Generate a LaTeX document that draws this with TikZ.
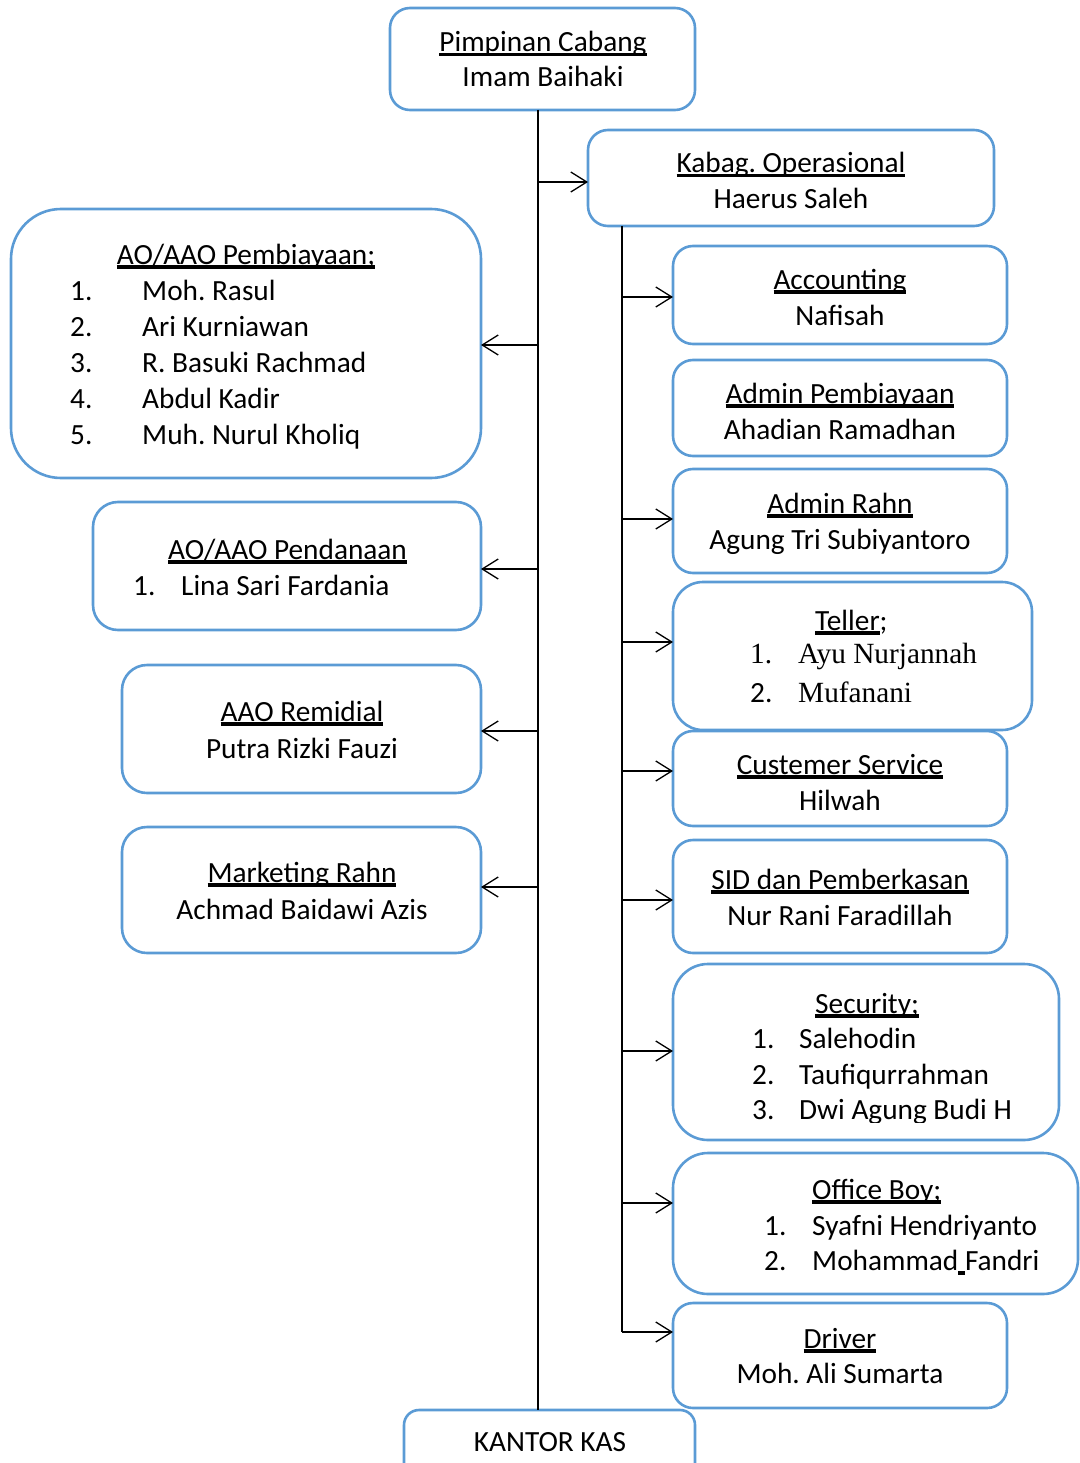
\documentclass[tikz,border=0pt]{standalone}
\usepackage{fontspec}
\setmainfont{Carlito}
\newfontfamily\tnr{Liberation Serif}
\frenchspacing
\newsavebox{\ulxbox}
\newcommand{\ulx}[1]{\sbox{\ulxbox}{#1}\rlap{\rule[-4.5pt]{\wd\ulxbox}{3.4pt}}\usebox{\ulxbox}}
\usetikzlibrary{arrows.meta}
\definecolor{bxc}{HTML}{5B9BD5}
\tikzset{
  bx/.style={draw=bxc, line width=2.6pt, rounded corners=#1, anchor=north west, inner sep=0pt, outer sep=0pt},
  bx/.default=20pt,
  tx/.style={font=\fontsize{29.3}{36}\selectfont\frenchspacing, inner sep=0pt, anchor=base},
  txl/.style={tx, anchor=base west},
  arr/.style={line width=1.3pt, -{Straight Barb[length=16pt,width=20pt,line width=1.3pt]}},
  ln/.style={line width=1.3pt},
}
\begin{document}
\begin{tikzpicture}[x=1pt,y=-1pt]
\useasboundingbox (0,0) rectangle (1079,1463);
% boxes
\node[bx, minimum width=305pt, minimum height=102pt] (pim) at (390,8) {};
\node[bx, minimum width=406pt, minimum height=96pt] (kab) at (588,130) {};
\node[bx=50pt, minimum width=470pt, minimum height=269pt] (pemb) at (11,209) {};
\node[bx=25pt, minimum width=388pt, minimum height=128pt] (pend) at (93,502) {};
\node[bx=25pt, minimum width=359pt, minimum height=128pt] (remi) at (122,665) {};
\node[bx=25pt, minimum width=359pt, minimum height=126pt] (mkt) at (122,827) {};
\node[bx, minimum width=334pt, minimum height=98pt] (acc) at (673,246) {};
\node[bx, minimum width=334pt, minimum height=96pt] (admp) at (673,360) {};
\node[bx, minimum width=334pt, minimum height=104pt] (admr) at (673,469) {};
\node[bx=30pt, minimum width=359pt, minimum height=148pt] (tel) at (673,582) {};
\node[bx, minimum width=334pt, minimum height=95pt] (cs) at (673,731) {};
\node[bx, minimum width=334pt, minimum height=113pt] (sid) at (673,840) {};
\node[bx=35pt, minimum width=386pt, minimum height=176pt] (sec) at (673,964) {};
\node[bx=35pt, minimum width=405pt, minimum height=141pt] (ob) at (673,1153) {};
\node[bx, minimum width=334pt, minimum height=105pt] (drv) at (673,1303) {};
\node[bx=15pt, minimum width=291pt, minimum height=90pt] (kas) at (404,1410) {};
% texts
\node[tx] (t1) at (543,52) {\ulx{Pimpinan Cabang}};
\node[tx] (t2) at (543,87) {Imam Baihaki};
\node[tx] (t3) at (791,173) {\ulx{Kabag. Operasional}};
\node[tx] (t4) at (791,209) {Haerus Saleh};
\node[tx] (t5) at (246,264) {\ulx{AO/AAO Pembiayaan;}};
\node[txl] (t6a) at (70,300) {1.};
\node[txl] (t6b) at (142,300) {Moh. Rasul};
\node[txl] (t7a) at (70,336) {2.};
\node[txl] (t7b) at (142,336) {Ari Kurniawan};
\node[txl] (t8a) at (70,372) {3.};
\node[txl] (t8b) at (142,372) {R. Basuki Rachmad};
\node[txl] (t9a) at (70,408) {4.};
\node[txl] (t9b) at (142,408) {Abdul Kadir};
\node[txl] (t10a) at (70,444) {5.};
\node[txl] (t10b) at (142,444) {Muh. Nurul Kholiq};
\node[tx] (t11) at (287.5,559) {\ulx{AO/AAO Pendanaan}};
\node[txl] (t12a) at (133,595) {1.};
\node[txl] (t12b) at (181,595) {Lina Sari Fardania};
\node[tx] (t13) at (302,721) {\ulx{AAO Remidial}};
\node[tx] (t14) at (302,758) {Putra Rizki Fauzi};
\node[tx] (t15) at (302,882) {\ulx{Marketing Rahn}};
\node[tx] (t16) at (302,919) {Achmad Baidawi Azis};
\node[tx] (t17) at (840,289) {\ulx{Accounting}};
\node[tx] (t18) at (840,325) {Nafisah};
\node[tx] (t19) at (840,403) {\ulx{Admin Pembiayaan}};
\node[tx] (t20) at (840,439) {Ahadian Ramadhan};
\node[tx] (t21) at (840,513) {\ulx{Admin Rahn}};
\node[tx] (t22) at (840,549) {Agung Tri Subiyantoro};
\node[txl] (t23) at (815,630) {\ulx{Teller};};
\node[txl] (t24a) at (750,663) {\tnr 1.};
\node[txl] (t24b) at (798,663) {\tnr Ayu Nurjannah};
\node[txl] (t25a) at (750,702) {2.};
\node[txl] (t25b) at (798,702) {\tnr Mufanani};
\node[tx] (t26) at (840,774) {\ulx{Custemer Service}};
\node[tx] (t27) at (840,810) {Hilwah};
\node[tx] (t28) at (840,889) {\ulx{SID dan Pemberkasan}};
\node[tx] (t29) at (840,925) {Nur Rani Faradillah};
\node[txl] (t30) at (815,1013) {\ulx{Security;}};
\node[txl] (t31a) at (752,1048) {1.};
\node[txl] (t31b) at (799,1048) {Salehodin};
\node[txl] (t32a) at (752,1084) {2.};
\node[txl] (t32b) at (799,1084) {Taufiqurrahman};
\begin{scope}
\clip (673,1090) rectangle (1059,1122);
\node[txl] (t33a) at (752,1119) {3.};
\node[txl] (t33b) at (799,1119) {Dwi Agung Budi H};
\end{scope}
\node[txl] (t34) at (812,1199) {\ulx{Office Boy;}};
\node[txl] (t35a) at (764,1235) {1.};
\node[txl] (t35b) at (812,1235) {Syafni Hendriyanto};
\node[txl] (t36a) at (764,1270) {2.};
\node[txl] (t36b) at (812,1270) {Mohammad\ulx{\ }Fandri};
\node[tx] (t37) at (840,1348) {\ulx{Driver}};
\node[tx] (t38) at (840,1383) {Moh. Ali Sumarta};
\node[tx] (t39) at (550,1451) {KANTOR KAS};
% spine 1
\coordinate (s1) at (538,0);
\draw[ln] (pim.south -| s1) -- (kas.north -| s1);
\coordinate (a0) at (538,182);
\draw[arr] (a0) -- (a0 -| kab.west);
\coordinate (a1) at (538,345);
\draw[arr] (a1) -- (a1 -| pemb.east);
\coordinate (a2) at (538,569);
\draw[arr] (a2) -- (a2 -| pend.east);
\coordinate (a3) at (538,731);
\draw[arr] (a3) -- (a3 -| remi.east);
\coordinate (a4) at (538,887);
\draw[arr] (a4) -- (a4 -| mkt.east);
% spine 2
\coordinate (s2) at (622,0);
\coordinate (b8) at (622,1332);
\draw[ln] (kab.south -| s2) -- (b8);
\coordinate (b1) at (622,297);
\draw[arr] (b1) -- (b1 -| acc.west);
\coordinate (b2) at (622,519);
\draw[arr] (b2) -- (b2 -| admr.west);
\coordinate (b3) at (622,642);
\draw[arr] (b3) -- (b3 -| tel.west);
\coordinate (b4) at (622,771);
\draw[arr] (b4) -- (b4 -| cs.west);
\coordinate (b5) at (622,900);
\draw[arr] (b5) -- (b5 -| sid.west);
\coordinate (b6) at (622,1051);
\draw[arr] (b6) -- (b6 -| sec.west);
\coordinate (b7) at (622,1203);
\draw[arr] (b7) -- (b7 -| ob.west);
\draw[arr] (b8) -- (b8 -| drv.west);
\end{tikzpicture}
\end{document}
